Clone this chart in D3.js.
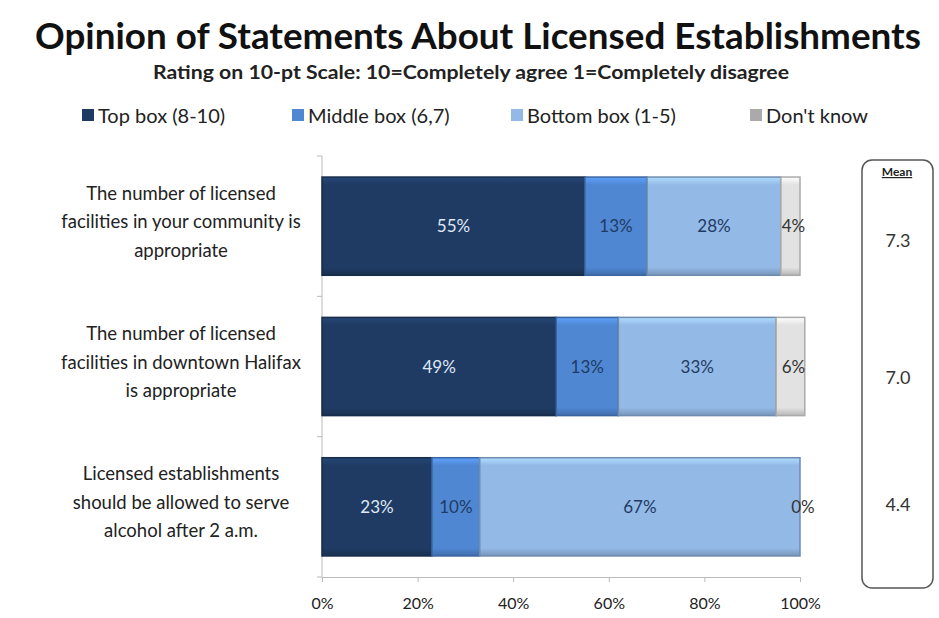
<!DOCTYPE html>
<html><head><meta charset="utf-8">
<script src="https://cdn.jsdelivr.net/npm/d3@7"></script>
<style>body{margin:0;background:#fff}svg{font-family:Lato,"Open Sans",sans-serif}</style>
</head><body><svg id="c" width="939" height="618"></svg>
<script>
const categories = [
  "The number of licensed|facilities in your community is|appropriate",
  "The number of licensed|facilities in downtown Halifax|is appropriate",
  "Licensed establishments|should be allowed to serve|alcohol after 2 a.m."
];
const seriesNames = ["Top box (8-10)", "Middle box (6,7)", "Bottom box (1-5)", "Don't know"];
const topBox = [55, 49, 23];
const middleBox = [13, 13, 10];
const bottomBox = [28, 33, 67];
const dontKnow = [4, 6, 0];
const means = ["7.3", "7.0", "4.4"];
const xTicks = [0, 20, 40, 60, 80, 100];
const colors = ["#1f3b63", "#4f87d3", "#93b9e6", "#e2e2e2"];
const labelColors = ["#dfe8f5", "#1f3b63", "#1f3b63", "#333"];

const svg = d3.select("#c");
const defs = svg.append("defs");
colors.forEach((c, i) => {
  const g = defs.append("linearGradient").attr("id", "g" + i).attr("x1", 0).attr("y1", 0).attr("x2", 0).attr("y2", 1);
  g.append("stop").attr("offset", "0").attr("stop-color", d3.color(c).brighter(0.5));
  g.append("stop").attr("offset", "0.08").attr("stop-color", c);
  g.append("stop").attr("offset", "0.92").attr("stop-color", c);
  g.append("stop").attr("offset", "1").attr("stop-color", d3.color(c).darker(0.6));
});

svg.append("text").attr("x", 478).attr("y", 49).attr("text-anchor", "middle")
  .attr("font-size", 36).attr("font-weight", "bold").attr("fill", "#111")
  .attr("textLength", 886).attr("lengthAdjust", "spacingAndGlyphs")
  .text("Opinion of Statements About Licensed Establishments");
svg.append("text").attr("x", 471).attr("y", 79).attr("text-anchor", "middle")
  .attr("font-size", 18).attr("font-weight", "bold").attr("fill", "#222")
  .attr("textLength", 636).attr("lengthAdjust", "spacingAndGlyphs")
  .text("Rating on 10-pt Scale:  10=Completely agree 1=Completely disagree");

// legend
const legX = [82, 292, 511, 750];
seriesNames.forEach((n, i) => {
  const g = svg.append("g").attr("transform", `translate(${legX[i]},123)`);
  g.append("rect").attr("x", 0).attr("y", -14).attr("width", 12).attr("height", 12).attr("fill", i === 3 ? "#aaa" : colors[i]);
  g.append("text").attr("x", 16).attr("y", 0).attr("font-size", 20).attr("fill", "#222").text(n);
});

const x = d3.scaleLinear().domain([0, 100]).range([322, 800]);
const y = d3.scaleBand().domain(categories).range([156, 577]).paddingInner(0.3).paddingOuter(0.15);

const stackData = categories.map((c, i) => ({cat: c, s0: topBox[i], s1: middleBox[i], s2: bottomBox[i], s3: dontKnow[i]}));
const stack = d3.stack().keys(["s0", "s1", "s2", "s3"])(stackData);

// axes
svg.append("line").attr("x1", x(0)).attr("x2", x(0)).attr("y1", 156).attr("y2", 577).attr("stroke", "#bbb");
const bounds = [156, 156 + (577 - 156) / 3, 156 + 2 * (577 - 156) / 3, 577];
bounds.forEach(b => svg.append("line").attr("x1", x(0) - 5).attr("x2", x(0)).attr("y1", b).attr("y2", b).attr("stroke", "#bbb"));
const xa = svg.append("g").attr("transform", "translate(0,577)")
  .call(d3.axisBottom(x).tickValues(xTicks).tickFormat(d => d + "%").tickSize(5));
xa.select(".domain").attr("stroke", "#bbb");
xa.selectAll(".tick line").attr("stroke", "#bbb");
xa.selectAll("text").attr("font-size", 16).attr("fill", "#222").attr("y", 27).attr("dy", "0.32em").attr("font-family", "Lato");

stack.forEach((layer, i) => {
  const g = svg.append("g");
  g.selectAll("rect").data(layer).join("rect")
    .attr("x", d => x(d[0])).attr("width", d => x(d[1]) - x(d[0]))
    .attr("y", d => y(d.data.cat)).attr("height", y.bandwidth())
    .attr("fill", `url(#g${i})`).attr("stroke", d3.color(colors[i]).darker(0.8)).attr("stroke-width", 1.5);
  g.selectAll("text").data(layer).join("text")
    .attr("x", d => (x(d[0]) + x(d[1])) / 2 + (i === 3 ? 3 : 0)).attr("y", d => y(d.data.cat) + y.bandwidth() / 2 + 6)
    .attr("text-anchor", "middle").attr("font-size", 17).attr("fill", labelColors[i])
    .text(d => (d[1] - d[0]) + "%");
});

// category labels
categories.forEach(c => {
  const lines = c.split("|");
  const cy = y(c) + y.bandwidth() / 2 - 4;
  const t = svg.append("text").attr("text-anchor", "middle").attr("font-size", 18.5).attr("fill", "#222");
  lines.forEach((l, k) => t.append("tspan").attr("x", 181).attr("y", cy + (k - 1) * 28.5 + 6).text(l));
});

// mean box
svg.append("rect").attr("x", 862).attr("y", 160).attr("width", 71).attr("height", 428).attr("rx", 10)
  .attr("fill", "#fff").attr("stroke", "#555").attr("stroke-width", 1.5);
svg.append("text").attr("x", 897).attr("y", 176).attr("text-anchor", "middle").attr("font-size", 12)
  .attr("font-weight", "bold").attr("text-decoration", "underline").attr("fill", "#222").text("Mean");
const meanY = [247, 384, 511];
means.forEach((m, i) => svg.append("text").attr("x", 898).attr("y", meanY[i]).attr("text-anchor", "middle")
  .attr("font-size", 18).attr("fill", "#333").text(m));
</script></body></html>
